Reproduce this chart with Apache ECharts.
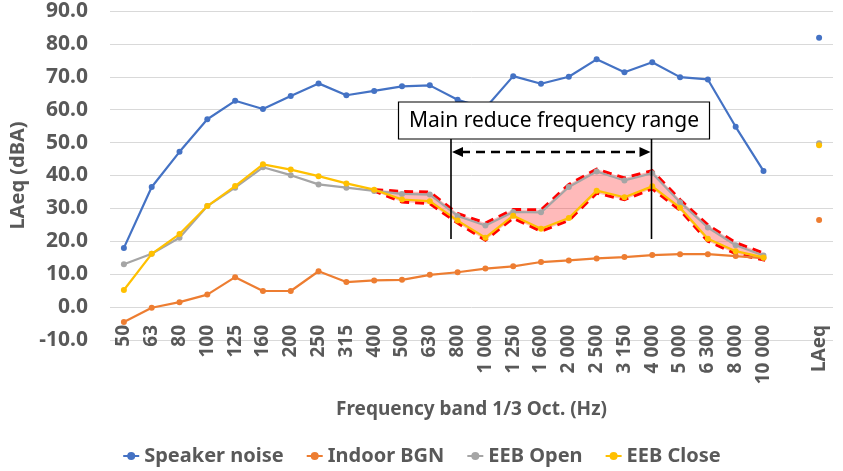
<!DOCTYPE html>
<html>
<head>
<meta charset="utf-8">
<script src="https://cdn.jsdelivr.net/npm/echarts@6/dist/echarts.min.js"></script>
<style>
html,body{margin:0;padding:0;background:#fff;}
#chart{width:843px;height:471px;}
</style>
</head>
<body>
<div id="chart"></div>
<script>
// ---- data ----
var categories = ['50','63','80','100','125','160','200','250','315','400','500','630','800','1 000','1 250','1 600','2 000','2 500','3 150','4 000','5 000','6 300','8 000','10 000','','LAeq'];
var speakerNoise = [18.0,36.5,47.2,57.1,62.7,60.2,64.2,68.0,64.4,65.7,67.1,67.4,63.0,60.5,70.2,67.9,70.0,75.3,71.4,74.4,69.9,69.2,54.8,41.4,null,81.9];
var indoorBGN = [-4.5,-0.2,1.5,3.8,9.1,4.9,4.9,10.9,7.6,8.1,8.3,9.8,10.6,11.7,12.4,13.7,14.2,14.8,15.2,15.8,16.1,16.1,15.5,14.9,null,26.5];
var eebOpen = [13.0,16.2,21.1,30.7,36.3,42.5,40.1,37.3,36.3,35.3,34.4,34.2,27.7,24.8,28.9,28.8,36.5,41.2,38.5,40.7,31.9,24.2,18.8,15.7,null,49.8];
var eebClose = [5.2,16.2,22.2,30.7,36.8,43.4,41.8,39.8,37.6,35.7,32.7,32.2,26.3,21.1,27.8,23.8,27.1,35.4,33.4,36.7,30.2,20.8,17.0,15.1,null,49.2];
var seriesNames = ['Speaker noise','Indoor BGN','EEB Open','EEB Close'];
var bandFrom = '400', bandTo = '10 000';
var annotationText = 'Main reduce frequency range';
var yTicks = {min:-10, max:90, interval:10};

var colors = ['#4472C4','#ED7D31','#A5A5A5','#FFC000'];
var FONT = '"Noto Sans", sans-serif';
var chart = echarts.init(document.getElementById('chart'));

function lineSeries(name, data, color, z){
  return {
    name:name, type:'line', data:data, z:z,
    showSymbol:true, showAllSymbol:true, symbol:'circle', symbolSize:6,
    lineStyle:{color:color, width:2.2}, itemStyle:{color:color},
    connectNulls:false, animation:false
  };
}

var i0 = categories.indexOf(bandFrom), i1 = categories.indexOf(bandTo);

var option = {
  animation:false,
  grid:{left:108, right:10, top:11, bottom:131, containLabel:false},
  legend:{
    data:seriesNames, top:441, left:'center', itemGap:22, itemWidth:16, itemHeight:10,
    textStyle:{color:'#595959', fontSize:20, fontWeight:'bold', fontFamily:FONT}
  },
  xAxis:{
    type:'category', data:categories, boundaryGap:true,
    axisLine:{show:false}, axisTick:{show:false}, splitLine:{show:false},
    axisLabel:{rotate:90, interval:0, margin:-15, color:'#595959', fontSize:19, fontWeight:'bold', fontFamily:FONT},
    name:'Frequency band 1/3 Oct. (Hz)', nameLocation:'middle', nameGap:60,
    nameTextStyle:{color:'#595959', fontSize:19, fontWeight:'bold', fontFamily:FONT}
  },
  yAxis:{
    type:'value', min:yTicks.min, max:yTicks.max, interval:yTicks.interval,
    axisLine:{show:false}, axisTick:{show:false},
    splitLine:{lineStyle:{color:'#d9d9d9', width:1}},
    axisLabel:{margin:22, color:'#595959', fontSize:21, fontWeight:'bold', fontFamily:FONT,
      formatter:function(v){return v.toFixed(1);}},
    name:'LAeq (dBA)', nameLocation:'middle', nameGap:82,
    nameTextStyle:{color:'#595959', fontSize:20, fontWeight:'bold', fontFamily:FONT}
  },
  series:[
    {
      type:'custom', name:'band', z:2, silent:true, animation:false,
      data:[[i0, 0]],
      renderItem:function(params, api){
        var pts = [];
        function off(k){ return (k===i0) ? 0 : 2.5; }
        for (var i=i0;i<=i1;i++){ var p = api.coord([i, Math.max(eebOpen[i], eebClose[i])]); pts.push([p[0], p[1]-off(i)]); }
        for (var j=i1;j>=i0;j--){ var q = api.coord([j, Math.min(eebOpen[j], eebClose[j])]); pts.push([q[0], q[1]+off(j)]); }
        return {type:'polygon', shape:{points:pts},
          style:{fill:'rgba(255,40,40,0.32)', stroke:'#FF0000', lineWidth:3, lineDash:[9,6]}};
      }
    },
    lineSeries(seriesNames[0], speakerNoise, colors[0], 3),
    lineSeries(seriesNames[1], indoorBGN, colors[1], 3),
    lineSeries(seriesNames[2], eebOpen, colors[2], 4),
    lineSeries(seriesNames[3], eebClose, colors[3], 5)
  ]
};
chart.setOption(option);

// annotation (box, bracket lines, double arrow)
var xL = 451, xR = 651.5, yArrow = 152, boxTop = 102, boxBottom = 139, lineBottom = 239;
chart.setOption({
  graphic:[
    {type:'line', z:100, shape:{x1:xL,y1:boxBottom,x2:xL,y2:lineBottom}, style:{stroke:'#000',lineWidth:1.6}},
    {type:'line', z:100, shape:{x1:xR,y1:boxBottom,x2:xR,y2:lineBottom}, style:{stroke:'#000',lineWidth:1.6}},
    {type:'line', z:100, shape:{x1:xL+10,y1:yArrow,x2:xR-10,y2:yArrow}, style:{stroke:'#000',lineWidth:2.6,lineDash:[9,6]}},
    {type:'polygon', z:100, shape:{points:[[xL+1,yArrow],[xL+12,yArrow-5],[xL+12,yArrow+5]]}, style:{fill:'#000'}},
    {type:'polygon', z:100, shape:{points:[[xR-1,yArrow],[xR-12,yArrow-5],[xR-12,yArrow+5]]}, style:{fill:'#000'}},
    {type:'rect', z:100, shape:{x:398.5,y:boxTop,width:311,height:boxBottom-boxTop}, style:{fill:'#fff',stroke:'#000',lineWidth:1.2}},
    {type:'text', z:101, x:554, y:121, style:{text:annotationText, fill:'#000', font:'21px "Noto Sans", sans-serif', textAlign:'center', textVerticalAlign:'middle'}}
  ]
});
</script>
</body>
</html>
